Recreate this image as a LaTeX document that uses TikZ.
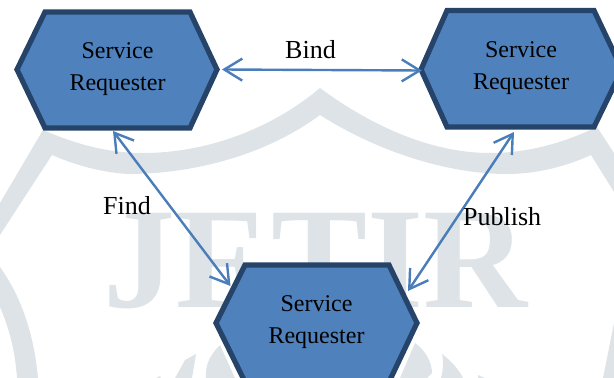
\documentclass[tikz,border=0pt]{standalone}
\usepackage{fontspec}
\setmainfont{Liberation Serif}
\usetikzlibrary{arrows.meta}
\definecolor{hexfill}{HTML}{4F81BD}
\definecolor{hexline}{HTML}{264469}
\definecolor{linkblue}{HTML}{4A7EBB}
\definecolor{wmark}{HTML}{DEE3E7}
\tikzset{
  linktip/.tip={Straight Barb[length=18pt,width=22pt,line width=2.4pt]},
  hexbody/.style={fill=hexfill,draw=hexline,line width=5.2pt,miter limit=10},
  hextext/.style={font=\fontsize{24}{32}\selectfont,align=center,anchor=center,inner sep=0pt,text=black},
  biarrow/.style={draw=linkblue,line width=2.4pt,linktip-linktip},
  lbl/.style={font=\fontsize{26}{30}\selectfont,anchor=base west,inner sep=0pt,text=black},
  wm/.style={fill=wmark,draw=none}
}
\newcommand{\hexagonat}[8]{%
  \draw[hexbody] (#2,#4) -- (#3,#5) -- (#6,#5) -- (#7,#4) -- (#6,#8) -- (#3,#8) -- cycle;
  \coordinate (#1) at (#2,#4);}
\begin{document}
\begin{tikzpicture}[x=1pt,y=-1pt]
\useasboundingbox (0,0) rectangle (614,378);
\clip (0,0) rectangle (614,378);
% watermark
\fill[wm] (43,130) .. controls (85,148) and (115,153) .. (143,153)
  .. controls (205,153) and (270,130) .. (320,88)
  .. controls (370,125) and (430,153) .. (490,153)
  .. controls (530,153) and (565,142) .. (597,127)
  -- (614,153) -- (614,192) -- (591,155)
  .. controls (565,167) and (535,174) .. (507,174)
  .. controls (445,174) and (375,150) .. (320,115)
  .. controls (270,152) and (200,174) .. (127,174)
  .. controls (100,172) and (75,165) .. (52,155)
  -- (0,235) -- (0,203) -- cycle;
\fill[wm] (0,267) .. controls (22,298) and (34,335) .. (38,378) -- (17,378)
  .. controls (15,350) and (9,328) .. (0,307) -- cycle;
\fill[wm] (614,323) -- (603,378) -- (614,378) -- cycle;
\fill[wm] (196,354) -- (185,360) -- (175,378) -- (192,378) -- cycle;
\fill[wm] (220,345) .. controls (210,355) and (205,365) .. (206,378) -- (235,378) -- cycle;
\fill[wm] (160,376) -- (156,378) -- (161,378) -- cycle;
\fill[wm] (415,343) .. controls (425,350) and (432,362) .. (432,373) -- (427,378) -- (400,378) -- cycle;
\fill[wm] (442,354) .. controls (450,360) and (458,368) .. (463,378) -- (441,378) .. controls (443,370) and (444,362) .. (442,354) -- cycle;
\fill[wm] (478,375) -- (485,378) -- (478,378) -- cycle;
\node[anchor=base west,inner sep=0pt,text=wmark,font=\fontsize{144}{144}\selectfont\bfseries] (wmtext) at (103,307) {JF\kern8ptTIR};
% hexagons
\hexagonat{hexa}{17}{45}{69.5}{12}{190}{217}{128}
\hexagonat{hexb}{421}{447}{69.5}{10.5}{594}{622}{127}
\hexagonat{hexc}{216}{245}{323}{265}{389}{417}{382}
\node[hextext] (reqa) at (117.5,69.5) {Service\\Requester};
\node[hextext] (reqb) at (521,68.5) {Service\\Requester};
\node[hextext] (reqc) at (316.5,322) {Service\\Requester};
% connectors
\coordinate (bindl) at (222,69.5);
\coordinate (bindr) at (422,70.5);
\coordinate (finda) at (113,131);
\coordinate (findc) at (230.5,286);
\coordinate (pubb) at (514,132);
\coordinate (pubc) at (408,291);
\draw[biarrow] (bindl) -- (bindr);
\draw[biarrow] (finda) -- (findc);
\draw[biarrow] (pubb) -- (pubc);
\node[lbl] (bind) at (285,58) {Bind};
\node[lbl] (find) at (103,214) {Find};
\node[lbl] (publish) at (463,225) {Publish};
\end{tikzpicture}
\end{document}
